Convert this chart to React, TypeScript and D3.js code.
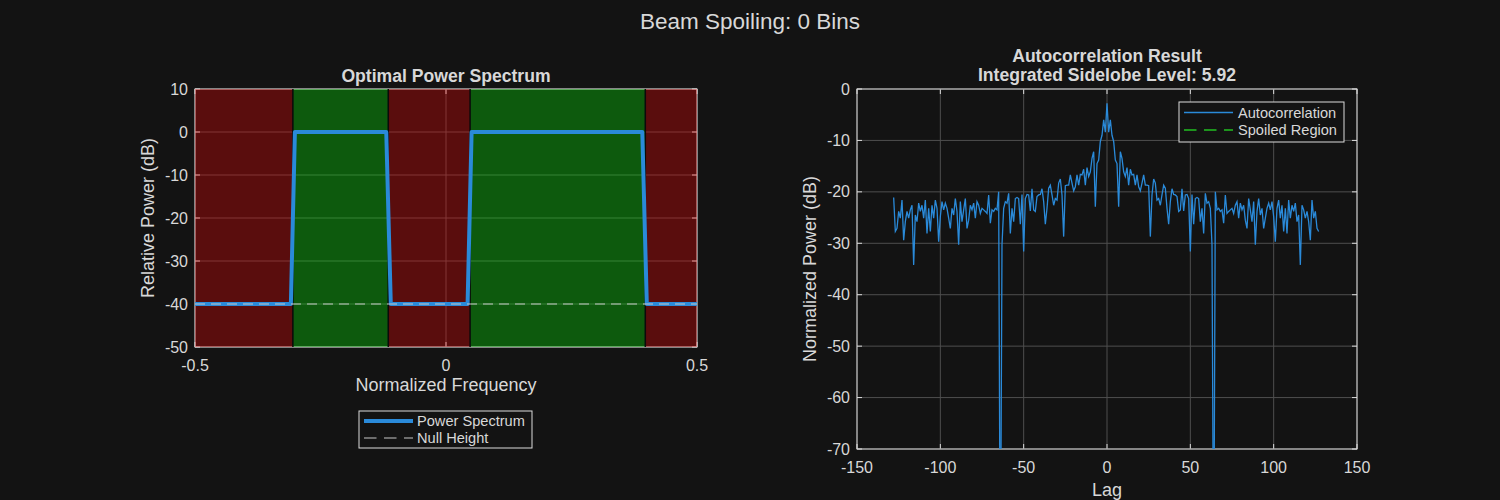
import { useMemo } from 'react';
import * as d3 from 'd3';

// Optimal power spectrum (left panel)
const spectrumFreq = [-0.5, -0.309, -0.301, -0.119, -0.11, 0.043, 0.051, 0.391, 0.4, 0.5];
const spectrumDb = [-40, -40, 0, 0, -40, -40, 0, 0, -40, -40];
const nullHeightDb = -40;
const bandEdges = [-0.5, -0.305, -0.115, 0.048, 0.397, 0.5];
const bandKinds = ['null', 'pass', 'null', 'pass', 'null'];

// Autocorrelation (right panel), lags -128..-1 and 0..127
const acfFirstLag = -128;
const acfNeg = [
  -21.1, -27.7, -27.1, -23.8, -25.1, -21.6, -29.4, -25.8, -23.8, -25.1, -23.5, -22.6, -34.2, -24.5,
  -25.8, -22.2, -23.8, -22.6, -25.1, -21.6, -28.1, -23.2, -27.7, -22.6, -25.1, -21.6, -23.2, -29.7,
  -24.8, -21.9, -23.5, -22.2, -23.2, -25.1, -27.1, -23.2, -24.5, -21.3, -23.8, -30.3, -21.9, -25.8,
  -23.5, -21.3, -27.1, -25.5, -22.6, -23.5, -22.2, -25.1, -21.9, -22.6, -24.2, -23.2, -23.5, -23.8,
  -24.2, -20.6, -26.1, -23.5, -23.8, -23.2, -23.5, -20.0, -100, -30.3, -23.2, -21.9, -22.2, -20.3,
  -28.1, -23.2, -25.8, -21.3, -21.1, -21.3, -26.3, -20.5, -31.6, -21.3, -20.5, -20.6, -23.7, -19.4,
  -23.5, -23.8, -20.9, -20.6, -20.5, -19.4, -21.9, -26.3, -23.2, -19.3, -18.7, -20.6, -22.6, -21.3,
  -21.6, -18.3, -17.5, -20.6, -28.7, -18.8, -18.7, -18.7, -16.7, -18.3, -19.8, -19.0, -16.7, -18.7,
  -16.6, -16.7, -15.6, -18.7, -15.3, -17.0, -16.1, -13.5, -12.2, -22.9, -14.5, -13.8, -10.2, -9.0,
  -6.0, -8.4,
];
const acfPos = [
  -2.8, -8.4, -6.0, -9.0, -10.2, -13.8, -14.5, -22.9, -12.2, -13.5, -16.1, -17.0, -15.3, -18.7,
  -15.6, -16.7, -16.6, -18.7, -16.7, -19.0, -19.8, -18.3, -16.7, -18.7, -18.7, -18.8, -28.7, -20.6,
  -17.5, -18.3, -21.6, -21.3, -22.6, -20.6, -18.7, -19.3, -23.2, -26.3, -21.9, -19.4, -20.5, -20.6,
  -20.9, -23.8, -23.5, -19.4, -23.7, -20.6, -20.5, -21.3, -31.6, -20.5, -26.3, -21.3, -21.1, -21.3,
  -25.8, -23.2, -28.1, -20.3, -22.2, -21.9, -23.2, -30.3, -100, -20.0, -23.5, -23.2, -23.8, -23.5,
  -26.1, -20.6, -24.2, -23.8, -23.5, -23.2, -24.2, -22.6, -21.9, -25.1, -22.2, -23.5, -22.6, -25.5,
  -27.1, -21.3, -23.5, -25.8, -21.9, -30.3, -23.8, -21.3, -24.5, -23.2, -27.1, -25.1, -23.2, -22.2,
  -23.5, -21.9, -24.8, -29.7, -23.2, -21.6, -25.1, -22.6, -27.7, -23.2, -28.1, -21.6, -25.1, -22.6,
  -23.8, -22.2, -25.8, -24.5, -34.2, -22.6, -23.5, -25.1, -23.8, -25.8, -29.4, -21.6, -25.1, -23.8,
  -27.1, -27.7,
];

const leftXTicks = [-0.5, 0, 0.5];
const leftXTickLabels = ['-0.5', '0', '0.5'];
const leftYTicks = [10, 0, -10, -20, -30, -40, -50];
const rightXTicks = [-150, -100, -50, 0, 50, 100, 150];
const rightYTicks = [0, -10, -20, -30, -40, -50, -60, -70];
const sidelobeLevel = '5.92';
const spoilBins = 0;

const W = 1500;
const H = 500;
const bg = '#131313';
const fg = '#d8d8d8';
const axisCol = '#dcdcdc';
const gridCol = '#4e4e4e';
const blue = '#2a8ad9';
const font = 'Liberation Sans, Arial, Helvetica, sans-serif';
const tickLen = 5;
const labelSize = 18;

type Box = { x0: number; x1: number; y0: number; y1: number };

function Frame({
  box,
  x,
  y,
  xTicks,
  yTicks,
}: {
  box: Box;
  x: d3.ScaleLinear<number, number>;
  y: d3.ScaleLinear<number, number>;
  xTicks: number[];
  yTicks: number[];
}) {
  return (
    <g>
      {xTicks.map((t) => (
        <g key={'x' + t}>
          <line x1={x(t)} x2={x(t)} y1={box.y0} y2={box.y1} stroke={gridCol} />
          <line x1={x(t)} x2={x(t)} y1={box.y1} y2={box.y1 - tickLen} stroke={axisCol} />
          <line x1={x(t)} x2={x(t)} y1={box.y0} y2={box.y0 + tickLen} stroke={axisCol} />
        </g>
      ))}
      {yTicks.map((t) => (
        <g key={'y' + t}>
          <line x1={box.x0} x2={box.x1} y1={y(t)} y2={y(t)} stroke={gridCol} />
          <line x1={box.x0} x2={box.x0 + tickLen} y1={y(t)} y2={y(t)} stroke={axisCol} />
          <line x1={box.x1} x2={box.x1 - tickLen} y1={y(t)} y2={y(t)} stroke={axisCol} />
        </g>
      ))}
      <rect
        x={box.x0}
        y={box.y0}
        width={box.x1 - box.x0}
        height={box.y1 - box.y0}
        fill="none"
        stroke={axisCol}
      />
    </g>
  );
}

function SpectrumPanel() {
  const box = { x0: 195, x1: 697, y0: 89, y1: 347 };
  const { x, y, path } = useMemo(() => {
    const x = d3.scaleLinear().domain([-0.5, 0.5]).range([box.x0, box.x1]);
    const y = d3.scaleLinear().domain([-50, 10]).range([box.y1, box.y0]);
    const path =
      d3
        .line<number>()
        .x((_, i) => x(spectrumFreq[i]))
        .y((d) => y(d))(spectrumDb) ?? '';
    return { x, y, path };
  }, []);

  const legendX = 359;
  const legendY = 411;

  return (
    <g>
      <Frame box={box} x={x} y={y} xTicks={leftXTicks} yTicks={leftYTicks} />
      {bandKinds.map((k, i) => (
        <rect
          key={i}
          x={x(bandEdges[i])}
          y={box.y0}
          width={x(bandEdges[i + 1]) - x(bandEdges[i])}
          height={box.y1 - box.y0}
          fill={k === 'pass' ? '#00ff00' : '#ff0000'}
          fillOpacity={0.3}
        />
      ))}
      {bandEdges.slice(1, -1).map((e, i) => (
        <line key={i} x1={x(e)} x2={x(e)} y1={box.y0} y2={box.y1} stroke="#0a0a0a" strokeWidth={1.5} />
      ))}
      <path d={path} fill="none" stroke={blue} strokeWidth={4} strokeLinejoin="round" />
      <line
        x1={box.x0}
        x2={box.x1}
        y1={y(nullHeightDb)}
        y2={y(nullHeightDb)}
        stroke="#c8c8c8"
        strokeDasharray="10 6"
      />
      <text x={(box.x0 + box.x1) / 2} y={76} textAnchor="middle" dominantBaseline="central" fontWeight="bold" fontSize={17.6} fill={fg}>
        Optimal Power Spectrum
      </text>
      {leftXTicks.map((t, i) => (
        <text key={t} x={x(t)} y={box.y1 + 18} textAnchor="middle" dominantBaseline="central" fontSize={16} fill={fg}>
          {leftXTickLabels[i]}
        </text>
      ))}
      {leftYTicks.map((t) => (
        <text key={t} x={box.x0 - 7} y={y(t)} textAnchor="end" dominantBaseline="central" fontSize={16} fill={fg}>
          {t}
        </text>
      ))}
      <text x={(box.x0 + box.x1) / 2} y={385} textAnchor="middle" dominantBaseline="central" fontSize={labelSize} fill={fg}>
        Normalized Frequency
      </text>
      <text
        transform={`translate(148,${(box.y0 + box.y1) / 2}) rotate(-90)`}
        textAnchor="middle"
        dominantBaseline="central"
        fontSize={labelSize}
        fill={fg}
      >
        Relative Power (dB)
      </text>
      <rect x={legendX} y={legendY} width={173} height={37} fill={bg} stroke={axisCol} />
      <line x1={legendX + 5} x2={legendX + 54} y1={legendY + 10} y2={legendY + 10} stroke={blue} strokeWidth={4} />
      <line
        x1={legendX + 5}
        x2={legendX + 54}
        y1={legendY + 27}
        y2={legendY + 27}
        stroke="#c8c8c8"
        strokeDasharray="12.5 7.5"
      />
      <text x={legendX + 58} y={legendY + 10} dominantBaseline="central" fontSize={14.6} fill={fg}>
        Power Spectrum
      </text>
      <text x={legendX + 58} y={legendY + 27} dominantBaseline="central" fontSize={14.6} fill={fg}>
        Null Height
      </text>
    </g>
  );
}

function AutocorrPanel() {
  const box = { x0: 857, x1: 1357, y0: 89, y1: 449 };
  const { x, y, path } = useMemo(() => {
    const x = d3.scaleLinear().domain([-150, 150]).range([box.x0, box.x1]);
    const y = d3.scaleLinear().domain([-70, 0]).range([box.y1, box.y0]);
    const values = [...acfNeg, ...acfPos];
    const path =
      d3
        .line<number>()
        .x((_, i) => x(acfFirstLag + i))
        .y((d) => y(d))(values) ?? '';
    return { x, y, path };
  }, []);

  const legendX = 1179;
  const legendY = 102;

  return (
    <g>
      <defs>
        <clipPath id="acf-clip">
          <rect x={box.x0} y={box.y0} width={box.x1 - box.x0} height={box.y1 - box.y0} />
        </clipPath>
      </defs>
      <Frame box={box} x={x} y={y} xTicks={rightXTicks} yTicks={rightYTicks} />
      <path d={path} fill="none" stroke={blue} strokeWidth={1.3} clipPath="url(#acf-clip)" />
      <text x={(box.x0 + box.x1) / 2} y={56} textAnchor="middle" dominantBaseline="central" fontWeight="bold" fontSize={17.6} fill={fg}>
        Autocorrelation Result
      </text>
      <text x={(box.x0 + box.x1) / 2} y={75} textAnchor="middle" dominantBaseline="central" fontWeight="bold" fontSize={17.6} fill={fg}>
        {`Integrated Sidelobe Level: ${sidelobeLevel}`}
      </text>
      {rightXTicks.map((t) => (
        <text key={t} x={x(t)} y={box.y1 + 18} textAnchor="middle" dominantBaseline="central" fontSize={16} fill={fg}>
          {t}
        </text>
      ))}
      {rightYTicks.map((t) => (
        <text key={t} x={box.x0 - 7} y={y(t)} textAnchor="end" dominantBaseline="central" fontSize={16} fill={fg}>
          {t}
        </text>
      ))}
      <text x={(box.x0 + box.x1) / 2} y={490} textAnchor="middle" dominantBaseline="central" fontSize={labelSize} fill={fg}>
        Lag
      </text>
      <text
        transform={`translate(810,${(box.y0 + box.y1) / 2}) rotate(-90)`}
        textAnchor="middle"
        dominantBaseline="central"
        fontSize={labelSize}
        fill={fg}
      >
        Normalized Power (dB)
      </text>
      <rect x={legendX} y={legendY} width={165} height={40} fill={bg} stroke={axisCol} />
      <line x1={legendX + 5} x2={legendX + 54} y1={legendY + 10.5} y2={legendY + 10.5} stroke={blue} strokeWidth={1.3} />
      <line
        x1={legendX + 5}
        x2={legendX + 54}
        y1={legendY + 28}
        y2={legendY + 28}
        stroke="#22c022"
        strokeWidth={1.3}
        strokeDasharray="12.5 7.5"
      />
      <text x={legendX + 59} y={legendY + 10.5} dominantBaseline="central" fontSize={14.6} fill={fg}>
        Autocorrelation
      </text>
      <text x={legendX + 59} y={legendY + 28} dominantBaseline="central" fontSize={14.6} fill={fg}>
        Spoiled Region
      </text>
    </g>
  );
}

export default function App() {
  return (
    <svg
      width={W}
      height={H}
      viewBox={`0 0 ${W} ${H}`}
      style={{ position: 'absolute', left: 0, top: 0, display: 'block' }}
      fontFamily={font}
    >
      <rect x={0} y={0} width={W} height={H} fill={bg} />
      <text x={W / 2} y={21} textAnchor="middle" dominantBaseline="central" fontSize={22.5} fill={fg}>
        {`Beam Spoiling: ${spoilBins} Bins`}
      </text>
      <SpectrumPanel />
      <AutocorrPanel />
    </svg>
  );
}
